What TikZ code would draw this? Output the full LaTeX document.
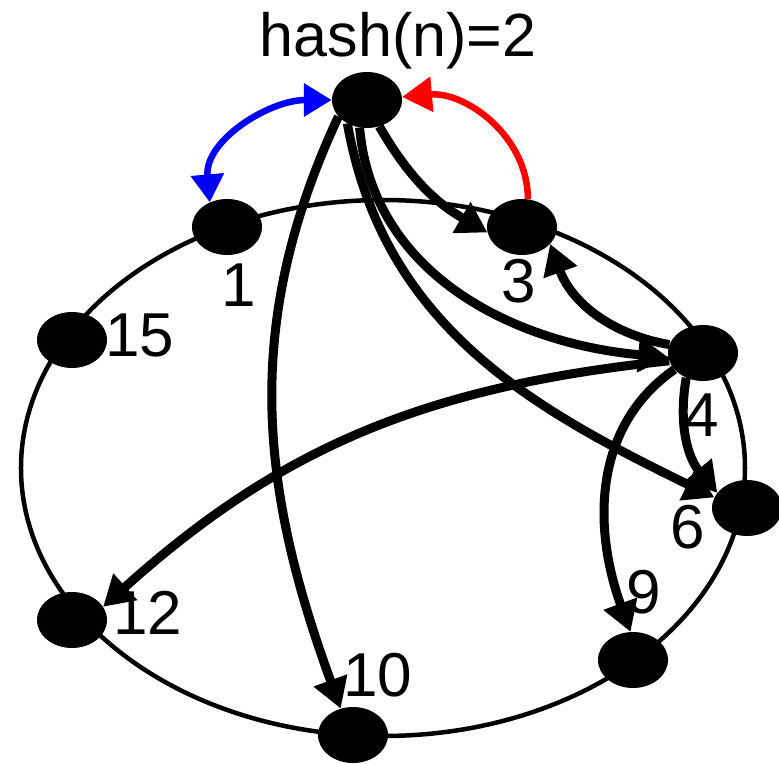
\documentclass[tikz,border=0pt]{standalone}
\usepackage{fontspec}
\setmainfont{Liberation Sans}
\usetikzlibrary{shapes.geometric,arrows.meta}
\begin{document}
\begin{tikzpicture}[x=1pt,y=1pt,line join=round,
	peer/.style={ellipse,fill=black,minimum width=70pt,minimum height=56pt,inner sep=0pt},
	lbl/.style={inner sep=0pt,font=\fontsize{62}{62}\selectfont},
	link/.style={line width=9pt,-{Triangle[length=30pt,width=34pt]}},
	ask/.style={line width=6.5pt,{Triangle[length=28pt,width=32pt]}-{Triangle[length=28pt,width=32pt]}},
	]
	\useasboundingbox (-383,-295) rectangle (396,468);
	\def\rx{362}%bán trục ngang của vòng
	\def\ry{268}%bán trục dọc của vòng
	%========vẽ vòng
	\draw[line width=4.5pt] (0,0) ellipse ({\rx} and {\ry});
	%========các nút trên vòng
	\node[peer] (T) at (-16,368) {};
	\node[peer] (n1) at (-156,241) {};
	\node[peer] (n3) at (139,241) {};
	\node[peer] (n4) at (320,115) {};
	\node[peer] (n6) at (364,-40) {};
	\node[peer] (n9) at (250,-192) {};
	\node[peer] (n10) at (-30,-267) {};
	\node[peer] (n12) at (-311,-152) {};
	\node[peer] (n15) at (-311,128) {};
	%========nhãn
	\node[lbl,font=\fontsize{61}{61}\selectfont,anchor=base] (hash) at (15,411) {hash(n)=2};
	\node[lbl] (l1) at (-144,183) {1};
	\node[lbl] (l3) at (136,187) {3};
	\node[lbl] (l15) at (-243,133) {15};
	\node[lbl] (l12) at (-235,-145) {12};
	\node[lbl] (l10) at (-5,-207) {10};
	\node[lbl] (l4) at (319,53) {4};
	\node[lbl] (l6) at (305,-59) {6};
	\node[lbl] (l9) at (261,-124) {9};
	%========các mũi tên
	\draw[ask,blue] (n1.125) to[out=95,in=180] (T.180);
	\draw[link,red,line width=6.5pt] (n3.78) to[out=90,in=5] (T.5);
	\draw[link] (T.210) to[out=-115,in=110] (n10.115);
	\draw[link] (T.230) to[out=-80,in=154] (n6.162);
	\draw[link] (T.255) to[out=-85,in=175] (n4.187);
	\draw[link] (T.295) to[out=-60,in=150] (n3.189);
	\draw[link] (n4.166) to[out=170,in=-70] (n3.-31);
	\draw[link] (n4.193) to[out=186,in=42] (n12.23);
	\draw[link] (n4.236) to[out=-100,in=130] (n6.153);
	\draw[link] (n4.210) to[out=215,in=110] (n9.95);
\end{tikzpicture}
\end{document}
